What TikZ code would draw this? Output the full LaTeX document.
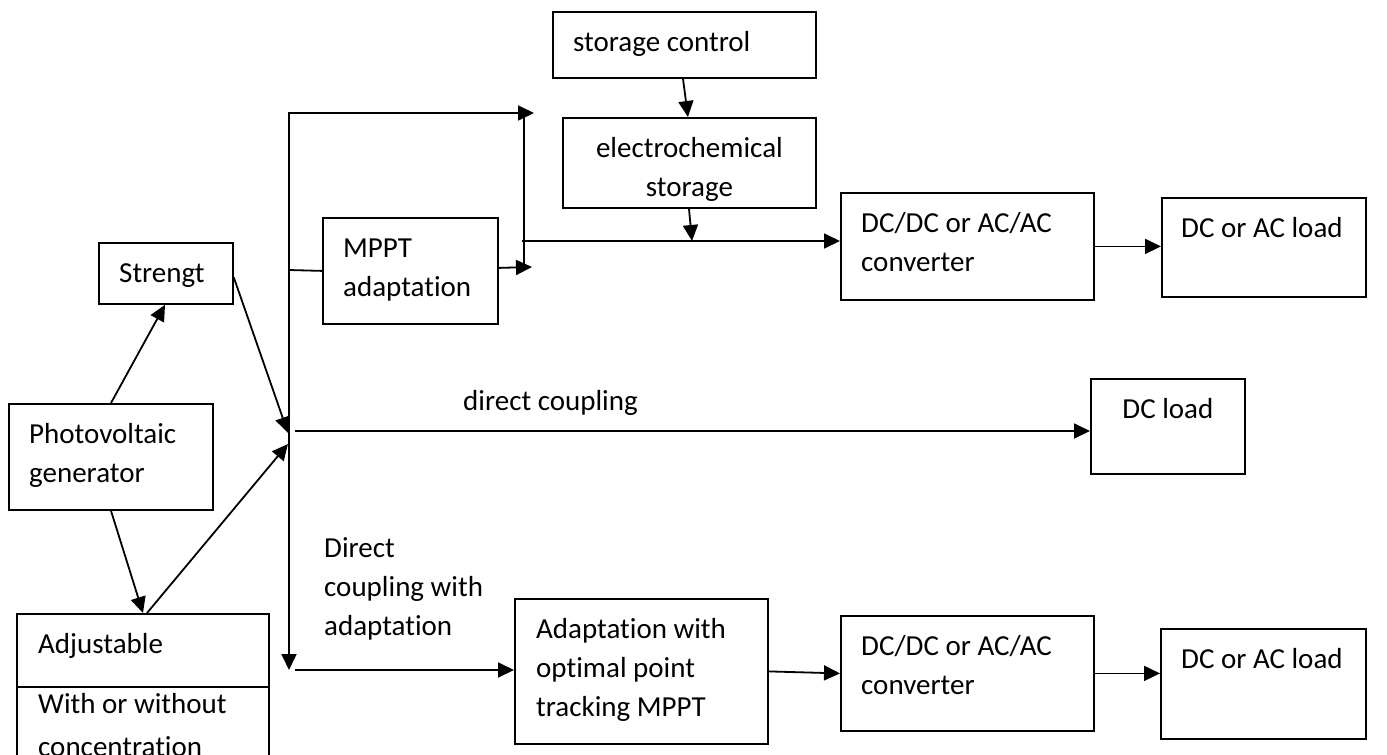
\documentclass[tikz,border=0pt]{standalone}
\usepackage{fontspec}
\setmainfont{Carlito}[Ligatures=NoCommon]
\usetikzlibrary{arrows.meta}
\newcommand\lnstrut{\rule{0pt}{22pt}}
\begin{document}
\begin{tikzpicture}[x=1pt, y=-1pt,
  box/.style={draw, line width=1.8pt, inner sep=0pt, anchor=north west},
  txt/.style={font=\fontsize{29pt}{39pt}\selectfont, inner sep=0pt, align=left, anchor=north west},
  ctxt/.style={txt, align=center, anchor=north},
  ln/.style={line width=1.8pt},
  arr/.style={line width=1.8pt, -{Triangle[length=16pt,width=15pt]}}]
\useasboundingbox (0,0) rectangle (1387,755);
\fill[white] (0,0) rectangle (1387,755);
\clip (0,0) rectangle (1387,755);

% blocks
\node[box, minimum width=263pt, minimum height=66pt]  (sc)   at (552,11)  {};
\node[box, minimum width=253pt, minimum height=90pt]  (ec)   at (562,117) {};
\node[box, minimum width=175pt, minimum height=106pt] (mppt) at (322,217) {};
\node[box, minimum width=134pt, minimum height=61pt]  (str)  at (98,242)  {};
\node[box, minimum width=204pt, minimum height=106pt] (pv)   at (8,403)   {};
\node[box, minimum width=252pt, minimum height=170pt] (adj)  at (16,613)  {};
\node[box, minimum width=253pt, minimum height=107pt] (cv1)  at (840,192) {};
\node[box, minimum width=204pt, minimum height=99pt]  (ld1)  at (1161,197) {};
\node[box, minimum width=154pt, minimum height=95pt]  (dcl)  at (1090,378) {};
\node[box, minimum width=253pt, minimum height=145pt] (ad)   at (514,598) {};
\node[box, minimum width=253pt, minimum height=115pt] (cv2)  at (840,615) {};
\node[box, minimum width=205pt, minimum height=110pt] (ld2)  at (1160,628) {};
\draw[ln] (16,687) -- (268,687);

% block texts
\node[txt]  (sct)   at ([shift={(21pt,-18pt)}]sc.north west)   {\lnstrut storage control};
\node[ctxt] (ect)   at ([shift={(0pt,-18pt)}]ec.north)         {\lnstrut electrochemical\\storage};
\node[txt]  (mpptt) at ([shift={(21pt,-18pt)}]mppt.north west) {\lnstrut MPPT\\adaptation};
\node[txt]  (strt)  at ([shift={(21pt,-18pt)}]str.north west)  {\lnstrut Strengt};
\node[txt]  (pvt)   at ([shift={(21pt,-18pt)}]pv.north west)   {\lnstrut Photovoltaic\\generator};
\node[txt]  (adjt)  at ([shift={(22pt,-18pt)}]adj.north west)  {\lnstrut Adjustable};
\node[txt]  (adjt2) at (38,691) {\lnstrut With or without\\[4pt]concentration};
\node[txt]  (cv1t)  at ([shift={(21pt,-18pt)}]cv1.north west)  {\lnstrut DC/DC or AC/AC\\converter};
\node[txt]  (ld1t)  at ([shift={(20pt,-18pt)}]ld1.north west)  {\lnstrut DC or AC load};
\node[ctxt] (dclt)  at ([shift={(0pt,-18pt)}]dcl.north)        {\lnstrut DC load};
\node[txt]  (adt)   at ([shift={(22pt,-18pt)}]ad.north west)   {\lnstrut Adaptation with\\optimal point\\tracking MPPT};
\node[txt]  (cv2t)  at ([shift={(21pt,-18pt)}]cv2.north west)  {\lnstrut DC/DC or AC/AC\\converter};
\node[txt]  (ld2t)  at ([shift={(21pt,-18pt)}]ld2.north west)  {\lnstrut DC or AC load};

% connector labels
\node[txt] (dcp)  at (463,388) {\lnstrut direct coupling};
\node[txt] (dcpa) at (324,535) {\lnstrut Direct\\coupling with\\adaptation};

% bus points
\coordinate (bt)  at (289,113);
\coordinate (bj)  at (289,270);
\coordinate (bb)  at (289,670);
\coordinate (lt)  at (534,113);
\coordinate (rvt) at (524,113);
\coordinate (rvb) at (524,267);
\coordinate (mt)  at (532,267);
\coordinate (hs)  at (522,241);
\coordinate (tap) at (692,241);
\coordinate (s1)  at (288,433);
\coordinate (s2)  at (288,444);
\coordinate (dc)  at (295,431);
\coordinate (ab)  at (295,670);

% generator branches
\draw[arr] ([xshift=103pt]pv.north west) -- ([xshift=67pt]str.south west);
\draw[arr] ([xshift=103pt]pv.south west) -- ([xshift=127pt]adj.north west);
\draw[arr] ([yshift=-4pt]str.east) -- (s1);
\draw[arr] ([xshift=131pt]adj.north west) -- (s2);

% main bus
\draw[arr] (bj) -- (bt) -- (lt);
\draw[ln] (bj) -- (mppt.west);
\draw[arr] (bj) -- (bb);
\draw[ln] (rvt) -- (rvb);
\draw[arr] ([yshift=3pt]mppt.east) -- (mt);

% storage branch
\draw[arr] ([xshift=131pt]sc.south west) -- ([xshift=126pt]ec.north west);
\draw[arr] ([xshift=127pt]ec.south west) -- (tap);
\draw[arr] (hs) -- (hs -| cv1.west);
\draw[arr] (cv1.east) -- (cv1.east -| ld1.west);

% direct coupling
\draw[arr] (dc) -- (dc -| dcl.west);

% coupling with adaptation
\draw[arr] (ab) -- (ab -| ad.west);
\draw[arr] (ad.east) -- (cv2.west);
\draw[arr] (cv2.east) -- (cv2.east -| ld2.west);
\end{tikzpicture}
\end{document}
